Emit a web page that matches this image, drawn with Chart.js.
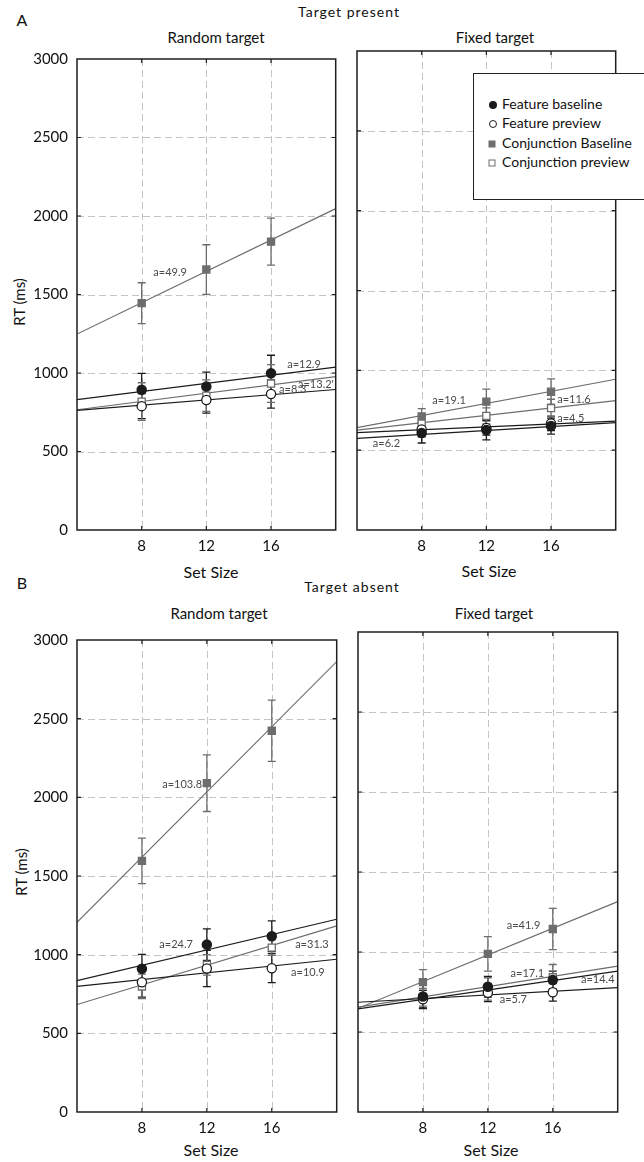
<!DOCTYPE html>
<html>
<head>
<meta charset="utf-8">
<script src="https://cdn.jsdelivr.net/npm/chart.js@4.4.0/dist/chart.umd.min.js"></script>
<style>
  body { margin: 0; width: 644px; height: 1162px; overflow: hidden; background: #fff; position: relative; font-family: Lato, sans-serif; color: #111; }
  canvas { position: absolute; }
  .t { position: absolute; white-space: nowrap; transform: translate(-50%, -50%); line-height: 1; }
  .rot { transform: translate(-50%, -50%) rotate(-90deg); }
  #legend { position: absolute; left: 473px; top: 73px; width: 200px; height: 125px; border: 1.5px solid #222; background: #fff; z-index: 5; }
  .li { position: absolute; left: 28px; font-size: 14px; line-height: 1; transform: translateY(-50%); white-space: nowrap; }
  .mk { position: absolute; box-sizing: border-box; transform: translate(-50%, -50%); }
</style>
</head>
<body>

<div class="t" style="left:22px;top:20px;font-size:16px">A</div>
<div class="t" style="left:349px;top:12px;font-size:14px;letter-spacing:1px">Target present</div>
<div class="t" style="left:216px;top:37px;font-size:15px">Random target</div>
<div class="t" style="left:495px;top:37px;font-size:15px">Fixed target</div>
<div class="t rot" style="left:19px;top:302px;font-size:15px">RT (ms)</div>
<div class="t" style="left:211px;top:572px;font-size:16px">Set Size</div>
<div class="t" style="left:489px;top:571px;font-size:16px">Set Size</div>

<div class="t" style="left:22px;top:583px;font-size:16px">B</div>
<div class="t" style="left:352px;top:587px;font-size:14px;letter-spacing:1px">Target absent</div>
<div class="t" style="left:219px;top:613px;font-size:15px">Random target</div>
<div class="t" style="left:494px;top:613px;font-size:15px">Fixed target</div>
<div class="t rot" style="left:21px;top:872px;font-size:15px">RT (ms)</div>
<div class="t" style="left:211px;top:1150px;font-size:16px">Set Size</div>
<div class="t" style="left:491px;top:1150px;font-size:16px">Set Size</div>

<canvas id="presRandom" width="342" height="519" style="left:0px;top:41px"></canvas>
<canvas id="presFixed" width="292" height="519" style="left:330px;top:41px"></canvas>
<canvas id="absRandom" width="343" height="520" style="left:0px;top:622px"></canvas>
<canvas id="absFixed" width="294" height="520" style="left:330px;top:622px"></canvas>

<div id="legend">
  <div class="mk" style="left:19px;top:31px;width:8px;height:8px;border-radius:50%;background:#1b1b1b"></div>
  <div class="li" style="top:30px">Feature baseline</div>
  <div class="mk" style="left:19px;top:50px;width:8px;height:8px;border-radius:50%;border:1.2px solid #1b1b1b"></div>
  <div class="li" style="top:49px">Feature preview</div>
  <div class="mk" style="left:18px;top:70px;width:7px;height:7px;background:#6d6d6d"></div>
  <div class="li" style="top:69px">Conjunction Baseline</div>
  <div class="mk" style="left:18px;top:89px;width:7px;height:7px;border:1px solid #6d6d6d"></div>
  <div class="li" style="top:88px">Conjunction preview</div>
</div>

<script>
var setSizes = [8, 12, 16]
var fitX = [4, 20]
var yTicks = [0, 500, 1000, 1500, 2000, 2500, 3000]

// A: target present, random target
var prFeatBase = [893, 914, 998], prFeatBaseErr = [105, 92, 115], prFeatBaseFit = [831, 1037]
var prFeatPrev = [789, 828, 866], prFeatPrevErr = [80, 83, 90], prFeatPrevFit = [762, 895]
var prConjBase = [1445, 1659, 1837], prConjBaseErr = [130, 158, 150], prConjBaseFit = [1248, 2047]
var prConjPrev = [818, 856, 933], prConjPrevErr = [120, 100, 120], prConjPrevFit = [766, 977]
var prSlopes = ['a=12.9', 'a=8.3', 'a=49.9', "a=13.2'"]

// A: target present, fixed target
var pfFeatBase = [607, 626, 651], pfFeatBaseErr = [62, 62, 50], pfFeatBaseFit = [574, 673]
var pfFeatPrev = [629, 639, 668], pfFeatPrevErr = [45, 45, 45], pfFeatPrevFit = [610, 682]
var pfConjBase = [712, 804, 866], pfConjBaseErr = [48, 78, 80], pfConjBaseFit = [641, 944]
var pfConjPrev = [668, 715, 764], pfConjPrevErr = [45, 50, 55], pfConjPrevFit = [626, 810]
var pfSlopes = ['a=6.2', 'a=4.5', 'a=19.1', 'a=11.6']

// B: target absent, random target
var arFeatBase = [910, 1064, 1117], arFeatBaseErr = [92, 100, 98], arFeatBaseFit = [835, 1225]
var arFeatPrev = [825, 912, 914], arFeatPrevErr = [95, 115, 92], arFeatPrevFit = [798, 971]
var arConjBase = [1596, 2090, 2423], arConjBaseErr = [145, 180, 195], arConjBaseFit = [1206, 2863]
var arConjPrev = [798, 935, 1045], arConjPrevErr = [78, 65, 50], arConjPrevFit = [683, 1183]
var arSlopes = ['a=24.7', 'a=10.9', 'a=103.8', 'a=31.3']

// B: target absent, fixed target
var afFeatBase = [722, 783, 825], afFeatBaseErr = [75, 65, 55], afFeatBaseFit = [644, 881]
var afFeatPrev = [705, 745, 748], afFeatPrevErr = [55, 55, 55], afFeatPrevFit = [686, 777]
var afConjBase = [812, 988, 1144], afConjBaseErr = [78, 108, 129], afConjBaseFit = [648, 1315]
var afConjPrev = [717, 769, 842], afConjPrevErr = [55, 70, 80], afConjPrevFit = [656, 912]
var afSlopes = ['a=14.4', 'a=5.7', 'a=41.9', 'a=17.1']

Chart.defaults.font.family = 'Lato'
Chart.defaults.color = '#111'

// feature baseline, feature preview, conjunction baseline, conjunction preview
var looks = [
  { color: '#1b1b1b', fill: '#1b1b1b', shape: 'circle', r: 4.6 },
  { color: '#1b1b1b', fill: '#ffffff', shape: 'circle', r: 4.6 },
  { color: '#6d6d6d', fill: '#6d6d6d', shape: 'rect', r: 5 },
  { color: '#6d6d6d', fill: '#ffffff', shape: 'rect', r: 5 }
]

var panelDecor = {
  id: 'panelDecor',
  beforeDatasetsDraw: function (chart) {
    var ctx = chart.ctx, a = chart.chartArea, xs = chart.scales.x, ys = chart.scales.y
    ctx.save()
    ctx.strokeStyle = '#c4c4c4'
    ctx.lineWidth = 1
    ctx.setLineDash([7, 4])
    ctx.beginPath()
    setSizes.forEach(function (v) {
      var px = Math.round(xs.getPixelForValue(v)) + 0.5
      ctx.moveTo(px, a.top); ctx.lineTo(px, a.bottom)
    })
    yTicks.slice(1, -1).forEach(function (v) {
      var py = Math.round(ys.getPixelForValue(v)) + 0.5
      ctx.moveTo(a.left, py); ctx.lineTo(a.right, py)
    })
    ctx.stroke()
    ctx.setLineDash([])
    // error bars
    chart.data.datasets.forEach(function (ds) {
      if (!ds.errs) return
      ctx.strokeStyle = ds.borderColor
      ctx.lineWidth = 1.3
      ctx.beginPath()
      ds.data.forEach(function (p, k) {
        var px = xs.getPixelForValue(p.x)
        var hi = ys.getPixelForValue(p.y + ds.errs[k]), lo = ys.getPixelForValue(p.y - ds.errs[k])
        ctx.moveTo(px, hi); ctx.lineTo(px, lo)
        ctx.moveTo(px - 4, hi); ctx.lineTo(px + 4, hi)
        ctx.moveTo(px - 4, lo); ctx.lineTo(px + 4, lo)
      })
      ctx.stroke()
    })
    ctx.restore()
  },
  afterDatasetsDraw: function (chart, args, opts) {
    var ctx = chart.ctx, xs = chart.scales.x, ys = chart.scales.y
    ctx.save()
    ctx.font = '11px Lato'
    ctx.fillStyle = '#4a4a4a'
    ctx.textAlign = 'left'
    ctx.textBaseline = 'middle'
    ;(opts.notes || []).forEach(function (n) {
      ctx.fillText(n.text, xs.getPixelForValue(n.x), ys.getPixelForValue(n.y))
    })
    ctx.restore()
  },
  afterDraw: function (chart) {
    var ctx = chart.ctx, a = chart.chartArea, xs = chart.scales.x, ys = chart.scales.y
    ctx.save()
    ctx.strokeStyle = '#1e1e1e'
    ctx.lineWidth = 1.5
    ctx.strokeRect(a.left, a.top, a.right - a.left, a.bottom - a.top)
    ctx.lineWidth = 1.2
    ctx.beginPath()
    setSizes.forEach(function (v) {
      var px = xs.getPixelForValue(v)
      ctx.moveTo(px, a.top); ctx.lineTo(px, a.top + 4)
      ctx.moveTo(px, a.bottom); ctx.lineTo(px, a.bottom - 4)
    })
    yTicks.slice(1, -1).forEach(function (v) {
      var py = ys.getPixelForValue(v)
      ctx.moveTo(a.left, py); ctx.lineTo(a.left + 4, py)
      ctx.moveTo(a.right, py); ctx.lineTo(a.right - 4, py)
    })
    ctx.stroke()
    ctx.restore()
  }
}

function makePanel(id, yWidth, showY, means, errs, fits, slopes, notePos) {
  var datasets = []
  means.forEach(function (m, i) {
    datasets.push({
      type: 'line',
      data: fitX.map(function (x, k) { return { x: x, y: fits[i][k] } }),
      borderColor: looks[i].color,
      borderWidth: 1.2,
      pointRadius: 0,
      fill: false,
      order: 2
    })
  })
  means.forEach(function (m, i) {
    datasets.push({
      type: 'scatter',
      data: setSizes.map(function (x, k) { return { x: x, y: m[k] } }),
      errs: errs[i],
      borderColor: looks[i].color,
      backgroundColor: looks[i].fill,
      pointStyle: looks[i].shape,
      pointRadius: looks[i].r,
      pointBorderWidth: 1.3,
      order: 1
    })
  })
  var notes = slopes.map(function (s, i) { return { text: s, x: notePos[i][0], y: notePos[i][1] } })

  return new Chart(document.getElementById(id), {
    type: 'scatter',
    data: { datasets: datasets },
    options: {
      responsive: false,
      animation: false,
      layout: { padding: { top: 10, right: 4, left: 0, bottom: 0 } },
      plugins: { legend: { display: false }, tooltip: { enabled: false }, panelDecor: { notes: notes } },
      scales: {
        x: {
          type: 'linear', min: 4, max: 20,
          afterBuildTicks: function (s) { s.ticks = setSizes.map(function (v) { return { value: v } }) },
          afterFit: function (s) { s.height = 30 },
          grid: { display: false, drawTicks: false },
          border: { display: false },
          ticks: { font: { size: 15 }, padding: 7, maxRotation: 0, callback: function (v) { return String(v) } }
        },
        y: {
          type: 'linear', min: 0, max: 3000,
          afterBuildTicks: function (s) { s.ticks = yTicks.map(function (v) { return { value: v } }) },
          afterFit: function (s) { s.width = yWidth },
          grid: { display: false, drawTicks: false },
          border: { display: false },
          ticks: { display: showY, font: { size: 15 }, padding: 9, callback: function (v) { return String(v) } }
        }
      }
    },
    plugins: [panelDecor]
  })
}

makePanel('presRandom', 77, true,
  [prFeatBase, prFeatPrev, prConjBase, prConjPrev],
  [prFeatBaseErr, prFeatPrevErr, prConjBaseErr, prConjPrevErr],
  [prFeatBaseFit, prFeatPrevFit, prConjBaseFit, prConjPrevFit],
  prSlopes, [[17.0, 1052], [16.5, 896], [8.72, 1641], [17.67, 927]])

makePanel('presFixed', 27, false,
  [pfFeatBase, pfFeatPrev, pfConjBase, pfConjPrev],
  [pfFeatBaseErr, pfFeatPrevErr, pfConjBaseErr, pfConjPrevErr],
  [pfFeatBaseFit, pfFeatPrevFit, pfConjBaseFit, pfConjPrevFit],
  pfSlopes, [[4.98, 539], [16.38, 701], [8.66, 814], [16.38, 820]])

makePanel('absRandom', 77, true,
  [arFeatBase, arFeatPrev, arConjBase, arConjPrev],
  [arFeatBaseErr, arFeatPrevErr, arConjBaseErr, arConjPrevErr],
  [arFeatBaseFit, arFeatPrevFit, arConjBaseFit, arConjPrevFit],
  arSlopes, [[9.07, 1062], [17.19, 887], [9.25, 2081], [17.44, 1062]])

makePanel('absFixed', 28, false,
  [afFeatBase, afFeatPrev, afConjBase, afConjPrev],
  [afFeatBaseErr, afFeatPrevErr, afConjBaseErr, afConjPrevErr],
  [afFeatBaseFit, afFeatPrevFit, afConjBaseFit, afConjPrevFit],
  afSlopes, [[17.74, 831], [12.73, 706], [13.16, 1164], [13.40, 869]])
</script>
</body>
</html>
